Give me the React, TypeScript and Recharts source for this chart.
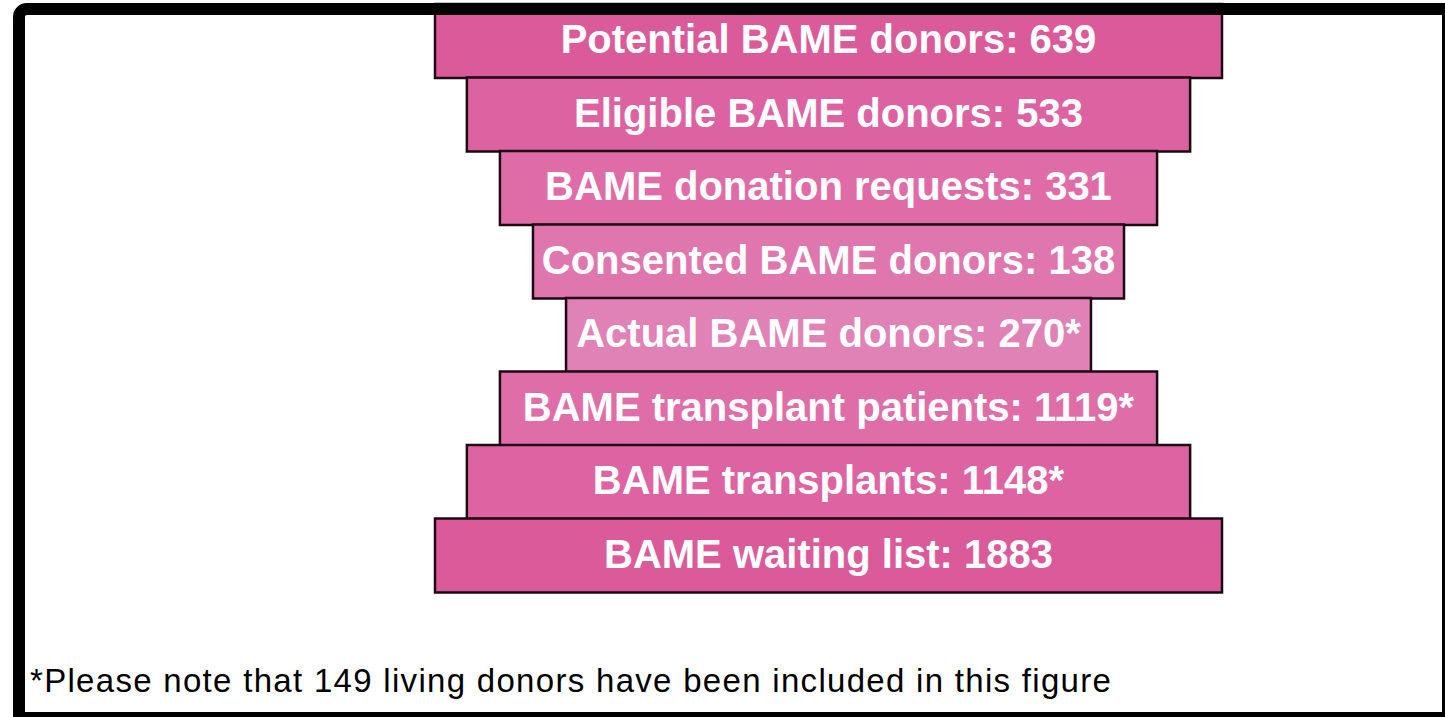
import React from "react";
import { BarChart, Bar, XAxis, YAxis, Cell, LabelList } from "recharts";

const stages = [
  "Potential BAME donors",
  "Eligible BAME donors",
  "BAME donation requests",
  "Consented BAME donors",
  "Actual BAME donors",
  "BAME transplant patients",
  "BAME transplants",
  "BAME waiting list",
];
const counts = [639, 533, 331, 138, 270, 1119, 1148, 1883];
const includesLiving = [false, false, false, false, true, true, true, false];
// relative drawn width of each band (the widest band = 1)
const relWidths = [1.0, 0.919, 0.835, 0.751, 0.667, 0.835, 0.919, 1.0];
const colors = ["#DA5A9A", "#DD62A1", "#DF6CA7", "#E076AE", "#E182B7", "#DF6DA8", "#DD63A2", "#DA5A9A"];
const footnote = "*Please note that 149 living donors have been included in this figure";

const data = stages.map((s, i) => ({
  name: s,
  label: `${s}: ${counts[i]}${includesLiving[i] ? "*" : ""}`,
  range: [-relWidths[i] / 2, relWidths[i] / 2],
}));

const W = 1445;
const H = 717;

const renderLabel = (props: any) => {
  const { x, y, width, height, value } = props;
  const cx = x + width / 2;
  const cy = y + height / 2;
  return (
    <text
      x={cx}
      y={cy + 12}
      textAnchor="middle"
      fill="#FFFFFF"
      fontSize={40}
      fontWeight="bold"
      fontFamily="'Liberation Sans', Arial, sans-serif"
    >
      {value}
    </text>
  );
};

export default function App() {
  return (
    <div style={{ position: "absolute", left: 0, top: 0, width: W, height: H, background: "#fff", overflow: "hidden" }}>
      <BarChart
        width={W}
        height={H}
        data={data}
        layout="vertical"
        margin={{ top: 4, right: 223, bottom: 125, left: 435 }}
        barCategoryGap={0}
      >
        <XAxis type="number" domain={[-0.5, 0.5]} hide />
        <YAxis type="category" dataKey="name" hide />
        <Bar dataKey="range" isAnimationActive={false} stroke="#1c0912" strokeWidth={2.5}>
          {data.map((d, i) => (
            <Cell key={d.name} fill={colors[i]} />
          ))}
          <LabelList dataKey="label" content={renderLabel} />
        </Bar>
      </BarChart>
      <svg width={W} height={H} style={{ position: "absolute", left: 0, top: 0, pointerEvents: "none" }}>
        <text
          x={30}
          y={692}
          fontSize={33}
          letterSpacing={1.3}
          fill="#000"
          fontFamily="'Liberation Sans', Arial, sans-serif"
        >
          {footnote}
        </text>
      </svg>
      <div
        style={{
          position: "absolute",
          left: 13,
          top: 3,
          width: 1432,
          height: 714,
          boxSizing: "border-box",
          borderLeft: "12px solid #000",
          borderTop: "12px solid #000",
          borderRight: "3px solid #000",
          borderBottom: "5px solid #000",
          borderTopLeftRadius: 14,
          pointerEvents: "none",
        }}
      />
    </div>
  );
}
